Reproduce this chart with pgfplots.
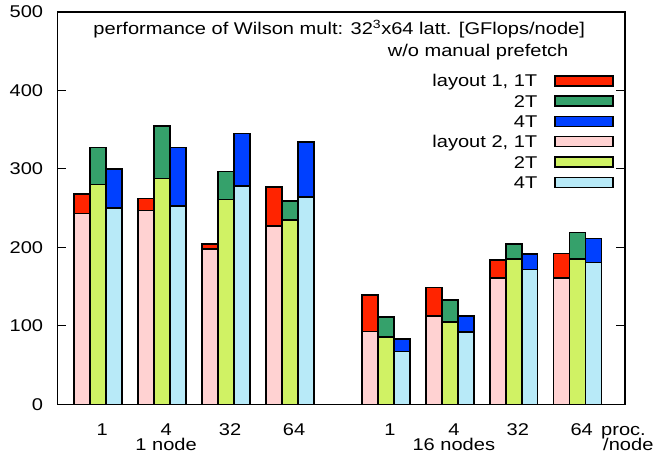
\documentclass[border=0pt]{standalone}
\usepackage{fontspec}
\setmainfont{Liberation Sans}[FakeStretch=1.18]
\usepackage{pgfplots}
\pgfplotsset{compat=1.18}
\definecolor{cRed}{RGB}{255,36,0}
\definecolor{cGreen}{RGB}{53,161,107}
\definecolor{cBlue}{RGB}{0,64,255}
\definecolor{cPink}{RGB}{255,210,210}
\definecolor{cLime}{RGB}{208,242,100}
\definecolor{cLBlue}{RGB}{184,234,248}
\pgfplotsset{sw/.style={legend image code/.code={\draw[##1,draw=black,line width=1.5bp] (0bp,-5bp) rectangle (58bp,5bp);}},
  bb/.style={ybar, bar width=1, bar shift=0pt, draw=black, line width=1.5bp, sw}}
\begin{document}
\fontsize{17bp}{20bp}\selectfont
\begin{tikzpicture}
\path (-57.3bp,-61.7bp) rectangle (596.7bp,404.3bp);
\begin{axis}[
  at={(0,0)}, anchor=south west,
  scale only axis, width=567.7bp, height=392.3bp,
  xmin=-2.56, xmax=32.96, ymin=0, ymax=500,
  clip=false,
  axis line style={line width=1.4bp},
  ytick={0,100,200,300,400,500},
  tick align=inside, major tick length=9bp,
  ytick style={line width=1bp, black},
  yticklabel style={anchor=east, inner sep=0pt, xshift=-14bp},
  /pgf/number format/assume math mode=true,
  xtick={0.25,4.25,8.25,12.25,18.25,22.25,26.25,30.25},
  xticklabels={1,4,32,64,1,4,32,64},
  xtick style={draw=none},
  xticklabel style={anchor=base, inner sep=0pt, yshift=-30.7bp},
  extra x ticks={4.25,22.25},
  extra x tick labels={1 node,16 nodes},
  extra x tick style={xtick style={draw=none}, xticklabel style={yshift=-15bp}},
  legend plot pos=right,
  legend cell align=right,
  legend style={draw=none, fill=none, inner sep=0pt, outer sep=0pt,
    at={(0.9802,0.8478)}, anchor=north east, column sep=17bp, row sep=2.1bp,
    nodes={inner sep=0pt, text height=15.2bp, text depth=3bp}},
]
% layout 1 (drawn behind)
\addplot[bb, fill=cRed] coordinates {(-1,268) (3,262) (7,204) (11,277) (17,139) (21,149) (25,184) (29,192)};
\addplot[bb, fill=cGreen] coordinates {(0,327) (4,355) (8,297) (12,259) (18,111) (22,133) (26,204) (30,219)};
\addplot[bb, fill=cBlue] coordinates {(1,300) (5,327) (9,345) (13,334) (19,83) (23,112.5) (27,191.5) (31,211)};
% layout 2 (in front)
\addplot[bb, fill=cPink] coordinates {(-1,243) (3,247) (7,198) (11,227) (17,93) (21,112.5) (25,161) (29,161)};
\addplot[bb, fill=cLime] coordinates {(0,280) (4,287.5) (8,261) (12,235) (18,86) (22,105) (26,185) (30,185)};
\addplot[bb, fill=cLBlue] coordinates {(1,250) (5,253) (9,278) (13,264) (19,67.5) (23,92) (27,171.5) (31,181)};
\legend{{layout 1, 1T},2T,4T,{layout 2, 1T},2T,4T}
\node[anchor=base west, inner sep=0pt] at (axis description cs:0.0634,0.9414) {performance of Wilson mult: 32\textsuperscript{3}x64 latt. [GFlops/node]};
\node[anchor=base east, inner sep=0pt] at (axis description cs:0.9007,0.8861) {w/o manual prefetch};
\node[anchor=base west, inner sep=0pt] at (axis description cs:0.9577,-0.0783) {proc.};
\node[anchor=base west, inner sep=0pt] at (axis description cs:0.9613,-0.1165) {/node};
\end{axis}
\end{tikzpicture}
\end{document}
